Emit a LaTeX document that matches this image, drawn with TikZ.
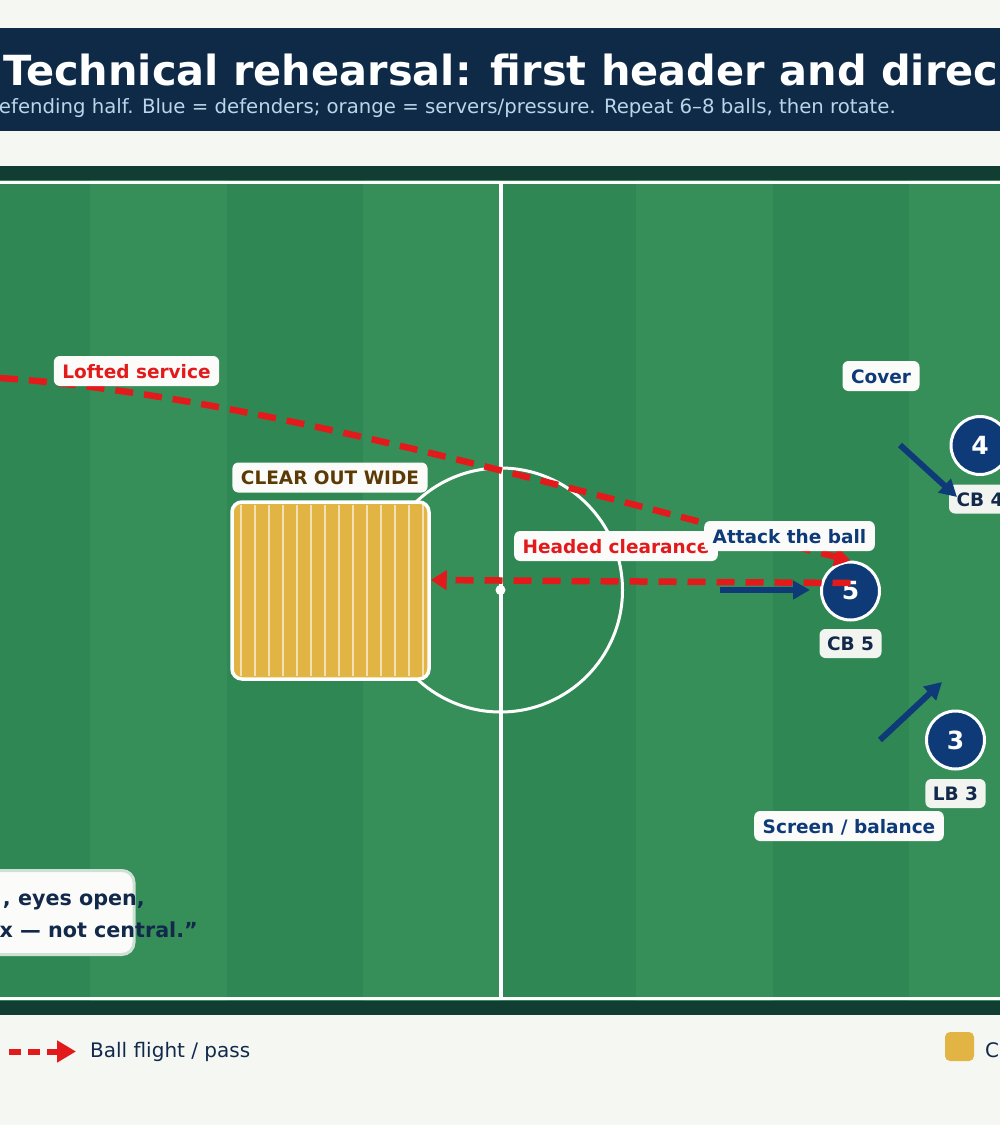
\documentclass[tikz,border=0pt]{standalone}
\usepackage{fontspec}
\setmainfont{DejaVu Sans}
\usetikzlibrary{arrows.meta,calc}

\definecolor{paper}{HTML}{F5F7F2}
\definecolor{banner}{HTML}{0F2A47}
\definecolor{subtext}{HTML}{BCD4EA}
\definecolor{band}{HTML}{123D33}
\definecolor{grassdark}{HTML}{2F8853}
\definecolor{grasslight}{HTML}{368F59}
\definecolor{ballred}{HTML}{E31A1C}
\definecolor{defblue}{HTML}{0E3A78}
\definecolor{ink}{HTML}{13294B}
\definecolor{zonegold}{HTML}{E2B443}
\definecolor{zonetext}{HTML}{5C3A06}
\definecolor{tagbg}{HTML}{FBFCF9}
\definecolor{pillbg}{HTML}{F2F4EF}
\definecolor{quoteline}{HTML}{CFE0D5}

\tikzset{
	pitchline/.style={white, line width=3.5pt},
	zonebox/.style={fill=zonegold, draw=white, line width=3.5pt, rounded corners=10pt, minimum width=197pt, minimum height=177pt, inner sep=0pt},
	zonestripe/.style={white, opacity=0.6, line width=2pt},
	player/.style={circle, fill=defblue, draw=white, line width=3pt, minimum size=58pt, inner sep=0pt, text=white, font=\fontsize{25}{25}\selectfont\bfseries},
	pill/.style={fill=pillbg, rounded corners=6pt, inner xsep=7.5pt, inner ysep=7.5pt, text height=14pt, text depth=0pt, text=ink, font=\fontsize{18.5}{20}\selectfont\bfseries},
	tag/.style={fill=tagbg, rounded corners=6pt, inner xsep=8.5pt, inner ysep=8pt, text height=14pt, text depth=0pt, font=\fontsize{18.5}{20}\selectfont\bfseries},
	ball/.style={ballred, line width=6.5pt, dash pattern=on 18pt off 11pt, -{Triangle[length=16pt,width=19pt]}},
	run/.style={defblue, line width=6pt, -{Triangle[length=17pt,width=18pt]}},
	quotetext/.style={inner sep=0pt, text=ink, font=\fontsize{20.7}{20.7}\selectfont\bfseries},
}

\begin{document}
\begin{tikzpicture}[x=1pt,y=-1pt]
	\useasboundingbox (0,0) rectangle (1000,1125);
	\fill[paper] (0,0) rectangle (1000,1125);
	\fill[banner] (0,28) rectangle (1000,131);
	\node[anchor=base west, inner sep=0pt, text=white, font=\fontsize{41.5}{41.5}\selectfont\bfseries] (title) at (3,85) {Technical rehearsal: first header and direc};
	\node[anchor=base east, inner sep=0pt, text=subtext, font=\fontsize{19.7}{19.7}\selectfont] (subtitle) at (896,113) {efending half. Blue = defenders; orange = servers/pressure. Repeat 6–8 balls, then rotate.};

	\fill[band] (0,166) rectangle (1000,1015);
	\foreach \i in {0,...,7} {
		\pgfmathsetmacro{\xa}{-46.5+136.5*\i}
		\ifodd\i \def\grass{grasslight}\else \def\grass{grassdark}\fi
		\fill[\grass] (\xa,180) rectangle (\xa+136.5,1001);
	}
	\draw[pitchline] (-10,182.5) -- (1010,182.5);
	\draw[pitchline] (-10,998.5) -- (1010,998.5);
	\draw[pitchline] (500.8,184) -- (500.8,997);
	\draw[white, line width=3pt] (500.5,590) circle[radius=122pt];
	\fill[white] (500.5,590) circle[radius=5pt];

	\node[zonebox] (zone) at (330.5,590.5) {};
	\foreach \k in {0,...,13}
		\draw[zonestripe] (241+14*\k,505) -- (241+14*\k,676);

	\node[player] (p5) at (850.5,591) {5};
	\node[player] (p4) at (980,445.5) {4};
	\node[player] (p3) at (955.5,740) {3};
	\node[pill] (cb5) at (850.5,643.5) {CB 5};
	\node[pill] (cb4) at (980,499) {CB 4};
	\node[pill] (lb3) at (955.5,793.5) {LB 3};

	\coordinate (run5a) at (720,590);
	\coordinate (run5b) at (810,590);
	\coordinate (run4a) at (900,445);
	\coordinate (run4b) at (957,497);
	\coordinate (run3a) at (880,740);
	\coordinate (run3b) at (942,682);
	\draw[run] (run5a) -- (run5b);
	\draw[run] (run4a) -- (run4b);
	\draw[run] (run3a) -- (run3b);

	\coordinate (serve) at (0,378);
	\draw[ball] (serve) .. controls (250,395) and (550,485) .. (p5.north);
	\draw[ball] ($(p5)+(0,-8)$) -- ($(zone.east)+(0,-10.5)$);

	\node[tag, text=ballred] (lofted) at (136.5,371) {Lofted service};
	\node[tag, text=zonetext] (clearwide) at (330,477.5) {CLEAR OUT WIDE};
	\node[tag, text=ballred] (headed) at (616,546) {Headed clearance};
	\node[tag, text=defblue] (attack) at (789.5,536) {Attack the ball};
	\node[tag, text=defblue] (cover) at (881,376) {Cover};
	\node[tag, text=defblue] (screen) at (849,826) {Screen / balance};

	\draw[fill=tagbg, draw=quoteline, line width=3pt, rounded corners=12pt] (-20,870.5) rectangle (134,954.5);
	\node[quotetext, anchor=base east] (quote1) at (145,905) {, eyes open,};
	\node[quotetext, anchor=base east] (quote2) at (198,937) {x — not central.”};

	\coordinate (legball1) at (9,1051.5);
	\coordinate (legball2) at (76,1051.5);
	\draw[ballred, line width=6pt, dash pattern=on 12pt off 7pt, -{Triangle[length=19pt,width=21pt]}] (legball1) -- (legball2);
	\node[anchor=base west, inner sep=0pt, text=ink, font=\fontsize{20}{20}\selectfont] (legballtext) at (90,1057) {Ball flight / pass};
	\fill[zonegold, rounded corners=5pt] (945,1032) rectangle (974,1061);
	\node[anchor=base west, inner sep=0pt, text=ink, font=\fontsize{20}{20}\selectfont] (legzonetext) at (985,1057) {C};
\end{tikzpicture}
\end{document}
